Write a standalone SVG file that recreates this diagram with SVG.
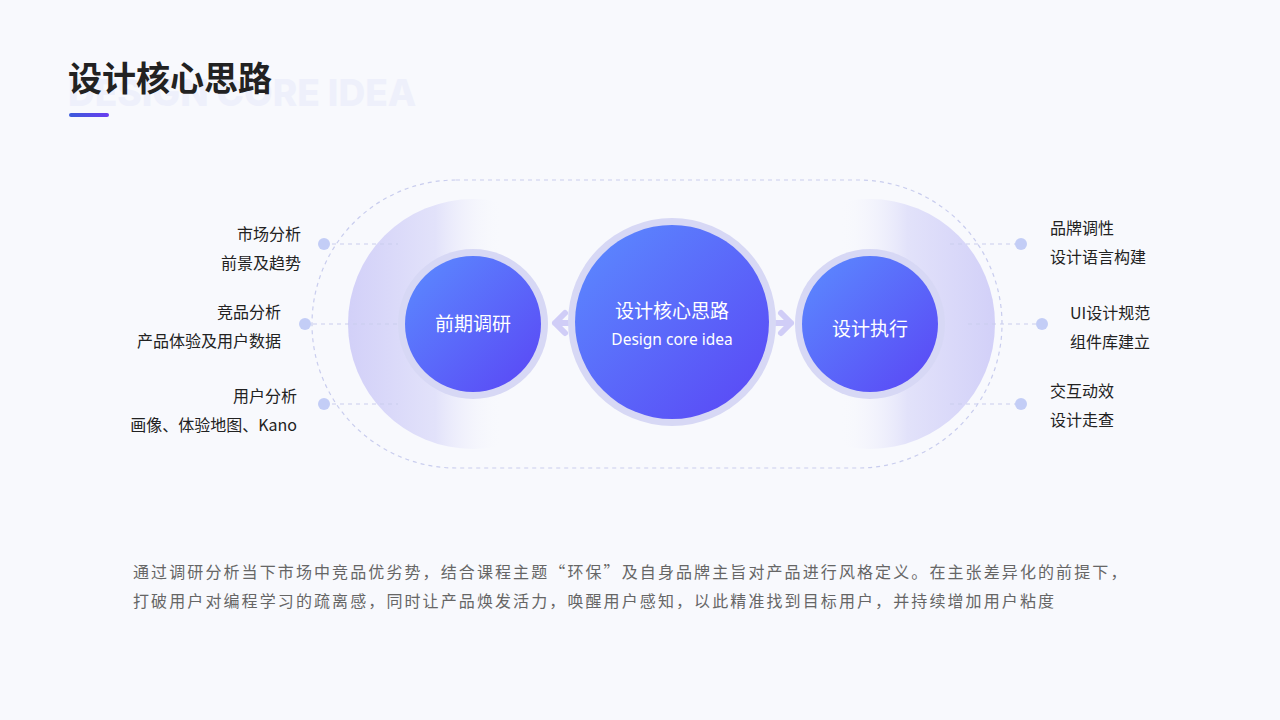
<svg xmlns="http://www.w3.org/2000/svg" width="1280" height="720" viewBox="0 0 1280 720">
<defs>
<linearGradient id="bar" x1="0" x2="1"><stop offset="0" stop-color="#3b5bdb"/><stop offset="1" stop-color="#6a3df0"/></linearGradient>
<linearGradient id="node" x1="0" y1="0" x2="1" y2="1"><stop offset="0" stop-color="#5b8cff"/><stop offset="1" stop-color="#5a45f5"/></linearGradient>
<linearGradient id="haloL" x1="0" x2="1"><stop offset="0" stop-color="#d2d0f8"/><stop offset="0.35" stop-color="#e2e2fa"/><stop offset="0.62" stop-color="#f8f9fd" stop-opacity="0"/></linearGradient>
<linearGradient id="haloR" x1="1" x2="0"><stop offset="0" stop-color="#d2d0f8"/><stop offset="0.35" stop-color="#e2e2fa"/><stop offset="0.62" stop-color="#f8f9fd" stop-opacity="0"/></linearGradient>
<style>
.cn{font-family:"Noto Sans CJK SC","Noto Sans",sans-serif}
.lab{font-family:"Noto Sans CJK SC","Noto Sans",sans-serif;font-size:16px;fill:#222}
.ring{fill:#d7d8f5}
.dash{stroke:#c9cdee;stroke-width:1.2;stroke-dasharray:4 4;fill:none}
.dot{fill:#c3cdf6}
.arr{fill:none;stroke:#d0cdf7;stroke-width:6;stroke-linecap:round;stroke-linejoin:round}
</style>
</defs>
<rect width="1280" height="720" fill="#f8f9fd"/>
<text x="68" y="106" font-family="Inter,sans-serif" font-weight="800" font-size="37" fill="#eef0fb">DESIGN CORE IDEA</text>
<text x="68" y="91" class="cn" font-weight="700" font-size="34" fill="#222">设计核心思路</text>
<rect x="69" y="113" width="40" height="4" rx="2" fill="url(#bar)"/>
<rect x="312" y="180" width="690" height="288" rx="144" class="dash"/>
<circle cx="473" cy="324" r="125" fill="url(#haloL)"/>
<circle cx="870" cy="324" r="125" fill="url(#haloR)"/>
<g id="connectors">
<line x1="324" y1="244" x2="398" y2="244" class="dash"/>
<line x1="305" y1="324" x2="398" y2="324" class="dash"/>
<line x1="324" y1="404" x2="398" y2="404" class="dash"/>
<line x1="950" y1="244" x2="1021" y2="244" class="dash"/>
<line x1="968" y1="324" x2="1042" y2="324" class="dash"/>
<line x1="950" y1="404" x2="1021" y2="404" class="dash"/>
<circle cx="324" cy="244" r="6" class="dot"/><circle cx="305" cy="324" r="6" class="dot"/><circle cx="324" cy="404" r="6" class="dot"/>
<circle cx="1021" cy="244" r="6" class="dot"/><circle cx="1042" cy="324" r="6" class="dot"/><circle cx="1021" cy="404" r="6" class="dot"/>
<path d="M565 313 L555 323 L565 333 M555 323 H574" class="arr"/>
<path d="M781 313 L791 323 L781 333 M791 323 H772" class="arr"/>
</g>
<g id="node-left"><circle cx="473" cy="324" r="75" class="ring"/><circle cx="473" cy="324" r="68" fill="url(#node)"/>
<text x="473" y="331" text-anchor="middle" class="cn" font-size="19" fill="#fff">前期调研</text></g>
<g id="node-center"><circle cx="672" cy="322" r="104" class="ring"/><circle cx="672" cy="322" r="97" fill="url(#node)"/>
<text x="672" y="318" text-anchor="middle" class="cn" font-size="19" fill="#fff">设计核心思路</text>
<text x="672" y="345" text-anchor="middle" font-family="'Noto Sans',sans-serif" font-size="15.5" fill="#fff">Design core idea</text></g>
<g id="node-right"><circle cx="870" cy="324" r="75" class="ring"/><circle cx="870" cy="324" r="68" fill="url(#node)"/>
<text x="870" y="336" text-anchor="middle" class="cn" font-size="19" fill="#fff">设计执行</text></g>
<g id="labels-left" text-anchor="end">
<text x="301" y="240" class="lab">市场分析</text><text x="301" y="269" class="lab">前景及趋势</text>
<text x="281" y="318" class="lab">竞品分析</text><text x="281" y="347" class="lab">产品体验及用户数据</text>
<text x="297" y="402" class="lab">用户分析</text><text x="297" y="431" class="lab">画像、体验地图、Kano</text>
</g>
<g id="labels-right">
<text x="1050" y="234" class="lab">品牌调性</text><text x="1050" y="263" class="lab">设计语言构建</text>
<text x="1070" y="319" class="lab">UI设计规范</text><text x="1070" y="348" class="lab">组件库建立</text>
<text x="1050" y="397" class="lab">交互动效</text><text x="1050" y="426" class="lab">设计走查</text>
</g>
<g class="cn" font-size="16" fill="#666" letter-spacing="2.1">
<text x="133" y="578">通过调研分析当下市场中竞品优劣势，结合课程主题“环保”及自身品牌主旨对产品进行风格定义。在主张差异化的前提下，</text>
<text x="133" y="607">打破用户对编程学习的疏离感，同时让产品焕发活力，唤醒用户感知，以此精准找到目标用户，并持续增加用户粘度</text>
</g>
</svg>
